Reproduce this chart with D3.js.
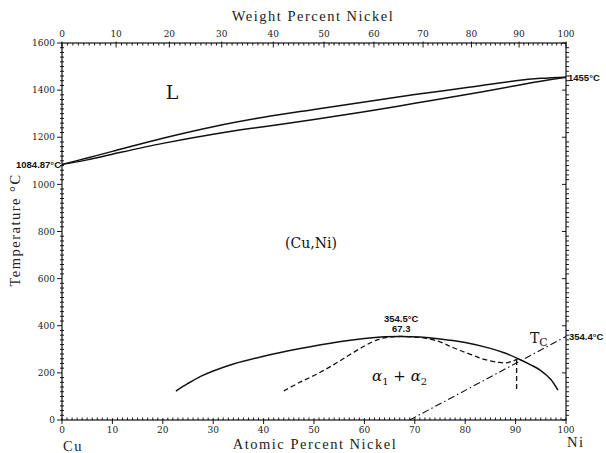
<!DOCTYPE html>
<html><head><meta charset="utf-8">
<script src="https://cdn.jsdelivr.net/npm/d3@7/dist/d3.min.js"></script>
<style>body{margin:0;background:#fff}svg{display:block}</style>
</head><body><svg id="c" width="606" height="453"></svg>
<script>
// ---- data ----
const atomicTicks = [0,10,20,30,40,50,60,70,80,90,100];
const weightTicks = [0,10,20,30,40,50,60,70,80,90,100];
const tempTicks = [0,200,400,600,800,1000,1200,1400,1600];
// at.% Ni, °C
const liquidus = [[0,1084.87],[5,1112],[10,1140],[20,1196],[30,1245],[40,1285],[50,1318],[60,1350],[70,1381],[80,1410],[90,1440],[95,1450],[100,1455]];
const solidus  = [[0,1084.87],[5,1104],[10,1128],[20,1174],[30,1213],[40,1245],[50,1275],[60,1308],[70,1344],[80,1380],[90,1419],[95,1438],[100,1455]];
const miscibilityGap = [[22.6,123],[25,155],[27.5,185],[30,208],[34,238],[40,271],[47,302],[55,332],[60,346],[64,353],[67.3,354.5],[71,352],[75,344],[80,329],[85,304],[88,283],[90.5,260],[93,234],[95,210],[97,172],[98.4,127]];
const spinodal = [[44,123],[47,158],[50.5,194],[54,236],[57,276],[60,314],[62.5,340],[64.5,351],[67.3,354.5],[70,352],[72,348],[75,332],[77,313],[79,295],[81.5,275],[84,256],[86.5,245],[88,242],[89.3,249],[90.4,258]];
const spinodalDrop = [[90.2,255],[90.2,120]];
const curieLine = [[69,0],[100,354.4]];
const CU_MASS = 63.546, NI_MASS = 58.6934;

// ---- layout ----
const svg = d3.select("#c");
const x = d3.scaleLinear().domain([0,100]).range([62,566]);
const y = d3.scaleLinear().domain([0,1600]).range([420,43]);
const wtToAt = w => { const a = w/NI_MASS, b = (100-w)/CU_MASS; return 100*a/(a+b); };
const tickFont = "DejaVu Serif", titleFont = "Liberation Serif";

// frame
svg.append("rect").attr("x",x(0)).attr("y",y(1600)).attr("width",x(100)-x(0)).attr("height",y(0)-y(1600))
  .attr("fill","none").attr("stroke","#000").attr("stroke-width",1.1);

const g = svg.append("g").attr("stroke","#000").attr("stroke-width",0.9);
// left axis
d3.range(0,1601,20).forEach(t=>{
  const major = t%200===0;
  g.append("line").attr("x1",x(0)-(major?5:2)).attr("x2",x(0)+(major?0:2)).attr("y1",y(t)).attr("y2",y(t));
});
// right axis
d3.range(0,1601,20).forEach(t=>{
  const major = t%200===0;
  g.append("line").attr("x1",x(100)-(major?4:0)).attr("x2",x(100)+(major?0:3)).attr("y1",y(t)).attr("y2",y(t));
});
// bottom axis
d3.range(0,101,1).forEach(v=>{
  const major = v%10===0;
  g.append("line").attr("x1",x(v)).attr("x2",x(v)).attr("y1",y(0)-(major?2:2.5)).attr("y2",y(0)+(major?4:0));
});
// top axis (weight percent)
d3.range(0,101,1).forEach(w=>{
  const major = w%10===0;
  const px = x(wtToAt(w));
  g.append("line").attr("x1",px).attr("x2",px).attr("y1",y(1600)-(major?1.5:0)).attr("y2",y(1600)+(major?4.5:2.5));
});

// tick labels
svg.append("g").selectAll("text").data(tempTicks).join("text")
  .attr("x",x(0)-7).attr("y",d=>y(d)).attr("dy","0.35em").attr("text-anchor","end")
  .attr("font-family",tickFont).attr("font-size",9).attr("fill","#222").text(d=>d);
svg.append("g").selectAll("text").data(atomicTicks).join("text")
  .attr("x",d=>x(d)).attr("y",y(0)+13).attr("text-anchor","middle")
  .attr("font-family",tickFont).attr("font-size",9).attr("fill","#222").text(d=>d);
svg.append("g").selectAll("text").data(weightTicks).join("text")
  .attr("x",d=>x(wtToAt(d))).attr("y",y(1600)-6).attr("text-anchor","middle")
  .attr("font-family",tickFont).attr("font-size",9).attr("fill","#222").text(d=>d);

// axis titles
const ttl = {"font-family":titleFont,"font-size":14.5,"letter-spacing":1.5,"fill":"#222"};
function tt(s,px,py,anchor,transform){
  const t = svg.append("text").attr("text-anchor",anchor).text(s);
  if (transform) t.attr("transform",transform); else t.attr("x",px).attr("y",py);
  Object.entries(ttl).forEach(([k,v])=>t.attr(k,v)); return t;
}
tt("Weight Percent Nickel",313,21,"middle");
tt("Atomic Percent Nickel",315,449,"middle");
tt("Temperature °C",0,0,"middle","translate(20,230) rotate(-90)");
tt("Cu",63,451,"start");
tt("Ni",567,447,"start");

// curves
const line = d3.line().x(d=>x(d[0])).y(d=>y(d[1]));
const smooth = d3.line().x(d=>x(d[0])).y(d=>y(d[1])).curve(d3.curveCatmullRom.alpha(0.5));
const curves = svg.append("g").attr("fill","none").attr("stroke","#111");
curves.append("path").attr("d",smooth(liquidus)).attr("stroke-width",1.5);
curves.append("path").attr("d",smooth(solidus)).attr("stroke-width",1.5);
curves.append("path").attr("d",smooth(miscibilityGap)).attr("stroke-width",1.5);
curves.append("path").attr("d",smooth(spinodal)).attr("stroke-width",1.3).attr("stroke-dasharray","5,3");
curves.append("path").attr("d",line(spinodalDrop)).attr("stroke-width",1.3).attr("stroke-dasharray","5,3");
curves.append("path").attr("d",line(curieLine)).attr("stroke-width",1.1).attr("stroke-dasharray","7,3,1.5,3");

// annotations
const small = {"font-family":"Liberation Sans","font-size":9.5,"font-weight":"bold","fill":"#111"};
function txt(s,px,py,attrs,anchor){
  const t = svg.append("text").attr("x",px).attr("y",py).attr("text-anchor",anchor||"start").text(s);
  Object.entries(attrs).forEach(([k,v])=>t.attr(k,v)); return t;
}
txt("1084.87°C",x(0)-1,y(1084.87)+3.5,small,"end");
txt("1455°C",x(100)+2,y(1455)+3.5,small,"start");
txt("354.4°C",x(100)+3,y(354.4)+3.5,small,"start");
txt("354.5°C",x(67.3),y(354.5)-14,small,"middle");
txt("67.3",x(67.3),y(354.5)-4,small,"middle");

const serif = {"font-family":"DejaVu Serif","fill":"#111"};
txt("L",172,99,Object.assign({"font-size":19},serif),"middle");
txt("(Cu,Ni)",311,248,Object.assign({"font-size":14},serif),"middle");

const a = svg.append("text").attr("x",372).attr("y",381).attr("font-family","DejaVu Serif").attr("font-size",15).attr("fill","#111");
a.append("tspan").attr("font-style","italic").text("α");
a.append("tspan").attr("font-size",10).attr("dy",4).text("1");
a.append("tspan").attr("dy",-4).text(" + ");
a.append("tspan").attr("font-style","italic").text("α");
a.append("tspan").attr("font-size",10).attr("dy",4).text("2");

const tc = svg.append("text").attr("x",530).attr("y",343).attr("font-family","DejaVu Serif").attr("font-size",14).attr("fill","#111");
tc.append("tspan").text("T");
tc.append("tspan").attr("font-size",11).attr("dy",3).text("C");
</script>
</body></html>
